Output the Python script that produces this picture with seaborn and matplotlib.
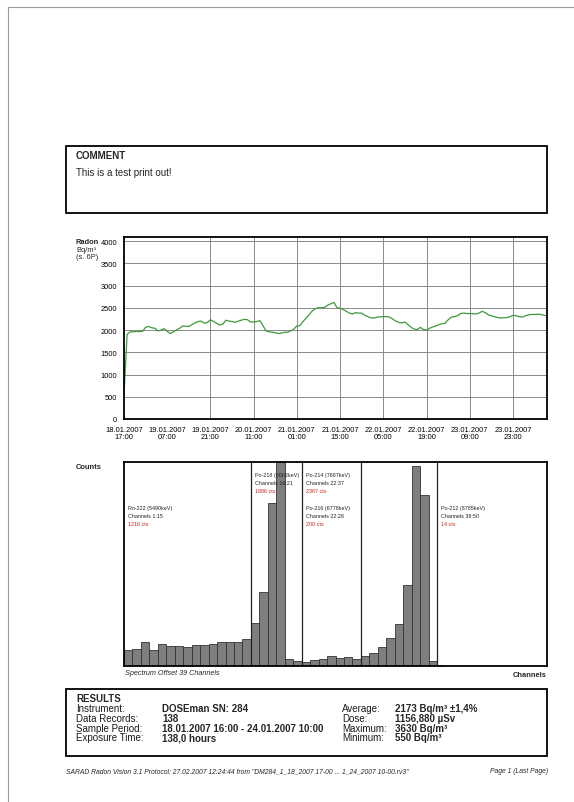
import matplotlib
matplotlib.use('Agg')
import matplotlib.pyplot as plt
import seaborn as sns
import pandas as pd
from matplotlib.patches import Rectangle

sns.set_theme(style='white')
plt.rcParams['font.family'] = ['Liberation Sans', 'DejaVu Sans']

# ---------------- data ----------------
radon_start = '2007-01-18 17:00'
radon = [550, 1900, 1960, 1960, 1970, 1965, 1970, 2060, 2080, 2050,
         2040, 1980, 2000, 2030, 1970, 1920, 1960, 2000, 2040, 2090,
         2085, 2080, 2120, 2160, 2190, 2200, 2150, 2170, 2230, 2190,
         2150, 2110, 2130, 2220, 2200, 2190, 2170, 2200, 2220, 2240,
         2230, 2180, 2180, 2190, 2210, 2100, 1980, 1960, 1950, 1940,
         1920, 1930, 1950, 1950, 1980, 2020, 2090, 2100, 2190, 2270,
         2350, 2430, 2480, 2500, 2500, 2510, 2560, 2590, 2620, 2500,
         2490, 2460, 2420, 2380, 2360, 2390, 2380, 2380, 2330, 2300,
         2270, 2270, 2290, 2295, 2300, 2300, 2290, 2250, 2200, 2170,
         2160, 2180, 2120, 2060, 2020, 2010, 2060, 2010, 2000, 2040,
         2070, 2090, 2120, 2140, 2150, 2230, 2290, 2300, 2320, 2370,
         2380, 2370, 2370, 2365, 2360, 2380, 2420, 2390, 2340, 2320,
         2300, 2280, 2270, 2275, 2280, 2300, 2330, 2320, 2300, 2290,
         2320, 2340, 2350, 2350, 2355, 2350, 2330, 2320]
radon_yticks = [0, 500, 1000, 1500, 2000, 2500, 3000, 3500, 4000]
radon_ymax = 4090
tick_times = ['2007-01-18 17:00', '2007-01-19 07:00', '2007-01-19 21:00',
              '2007-01-20 11:00', '2007-01-21 01:00', '2007-01-21 15:00',
              '2007-01-22 05:00', '2007-01-22 19:00', '2007-01-23 09:00',
              '2007-01-23 23:00']
tick_labels = ['18.01.2007\n17:00', '19.01.2007\n07:00', '19.01.2007\n21:00',
               '20.01.2007\n11:00', '21.01.2007\n01:00', '21.01.2007\n15:00',
               '22.01.2007\n05:00', '22.01.2007\n19:00', '23.01.2007\n09:00',
               '23.01.2007\n23:00']

channels = list(range(1, 51))
counts = [62, 65, 92, 62, 83, 77, 77, 72, 80, 81, 85, 93, 90, 93, 104,
          163, 283, 619, 777, 26, 18,
          15, 24, 28, 38, 32, 35, 28, 38, 49, 74, 108, 159, 310, 760, 650, 19,
          5, 1, 1, 0, 1, 1, 0, 1, 1, 0, 1, 1, 1]

regions = [
    ('Rn-222 (5490keV)', 'Channels 1:15', '1216 cts', 1, 15, 0),
    ('Po-218 (6002keV)', 'Channels 16:21', '1886 cts', 16, 21, 1),
    ('Po-214 (7687keV)', 'Channels 22:37', '2367 cts', 22, 37, 1),
    ('Po-216 (6778keV)', 'Channels 22:28', '200 cts', 22, 28, 0),
    ('Po-212 (8785keV)', 'Channels 38:50', '14 cts', 38, 50, 0),
]

res_labels_l = ['Instrument:', 'Data Records:', 'Sample Period:', 'Exposure Time:']
res_values_l = ['DOSEman SN: 284', '138', '18.01.2007 16:00 - 24.01.2007 10:00', '138,0 hours']
res_labels_r = ['Average:', 'Dose:', 'Maximum:', 'Minimum:']
res_values_r = ['2173 Bq/m³ ±1,4%', '1156,880 µSv', '3630 Bq/m³', '550 Bq/m³']

# ---------------- figure ----------------
W, H = 574, 803
fig = plt.figure(figsize=(W / 100, H / 100), dpi=100)
fig.patch.set_facecolor('white')


def fx(x):
    return x / W


def fy(y):
    return 1 - y / H


def box(x0, y0, x1, y1, lw=1.3, ec='black'):
    fig.add_artist(Rectangle((fx(x0), fy(y1)), fx(x1) - fx(x0), fy(y0) - fy(y1),
                             transform=fig.transFigure, fill=False, lw=lw, ec=ec))


# page outline
box(8, 8, 590, 820, lw=0.8, ec='#9a9a9a')

# COMMENT box
box(66, 147, 547, 214)
fig.text(fx(76), fy(156), 'COMMENT', fontsize=7, fontweight='bold', va='center', ha='left')
fig.text(fx(76), fy(173), 'This is a test print out!', fontsize=7, va='center', ha='left')

# ---------------- radon line chart ----------------
ax1 = fig.add_axes([fx(124), fy(420), fx(547) - fx(124), fy(238) - fy(420)])
times = pd.date_range(radon_start, periods=len(radon), freq='h')
df = pd.DataFrame({'time': times, 'radon': radon})
sns.lineplot(data=df, x='time', y='radon', ax=ax1, color='#3d9a3d', linewidth=0.9)
ax1.set_xlim(times[0], times[-1])
ax1.set_ylim(0, radon_ymax)
ax1.set_yticks(radon_yticks)
ax1.set_yticklabels([str(v) for v in radon_yticks])
tt = pd.to_datetime(tick_times)
ax1.set_xticks(tt)
ax1.set_xticklabels(tick_labels, linespacing=1.05)
ax1.set_xlabel('')
ax1.set_ylabel('')
ax1.grid(False)
for v in radon_yticks[1:]:
    ax1.axhline(v, color='#8a8a8a', lw=0.7, zorder=0)
for i, t in enumerate(tt):
    if i in (0, 1):
        continue
    ax1.axvline(t, color='#8a8a8a', lw=0.7, zorder=0)
ax1.tick_params(axis='both', length=0, labelsize=5.4, colors='black')
ax1.tick_params(axis='y', pad=5)
ax1.tick_params(axis='x', pad=5)
for s in ax1.spines.values():
    s.set_color('black')
    s.set_linewidth(1.3)

fig.text(fx(76), fy(242), 'Radon', fontsize=5.4, fontweight='bold', va='center')
fig.text(fx(76), fy(250), 'Bq/m³', fontsize=5.4, va='center')
fig.text(fx(76), fy(258), '(s. 6P)', fontsize=5.4, va='center')

# ---------------- spectrum ----------------
ax2 = fig.add_axes([fx(124), fy(667), fx(547) - fx(124), fy(463) - fy(667)])
sns.barplot(x=channels, y=counts, native_scale=True, width=1.0, color='#7e7e7e',
            saturation=1, edgecolor='#333333', linewidth=0.6, errorbar=None, ax=ax2)
ax2.set_xlim(0.5, 50.5)
ax2.set_ylim(0, max(counts))
ax2.set_xticks([])
ax2.set_yticks([])
ax2.set_xlabel('')
ax2.set_ylabel('')
for s in ax2.spines.values():
    s.set_color('black')
    s.set_linewidth(1.3)

for name, chan, cts, c0, c1, top in regions:
    if c1 < 50:
        ax2.axvline(c1 + 0.5, color='#222222', lw=0.9)
    ybase = 0.941 if top else 0.779
    for k, (txt, col) in enumerate([(name, '#222222'), (chan, '#222222'), (cts, '#cc2020')]):
        ax2.annotate(txt, xy=(c0 - 0.5, ybase - k * 0.041),
                     xycoords=('data', 'axes fraction'), xytext=(3, 0),
                     textcoords='offset points', fontsize=3.9, color=col,
                     va='center', ha='left', annotation_clip=False)

fig.text(fx(76), fy(468), 'Counts', fontsize=5.4, fontweight='bold', va='center')
fig.text(fx(125), fy(674), 'Spectrum Offset 39 Channels', fontsize=5.2, style='italic',
         va='center', ha='left')
fig.text(fx(547), fy(676), 'Channels', fontsize=5.4, fontweight='bold', va='center', ha='right')

# ---------------- RESULTS box ----------------
box(66, 690, 547, 757)
fig.text(fx(76), fy(699), 'RESULTS', fontsize=7, fontweight='bold', va='center')
row_y = [709.5, 719.3, 729, 738.5]
for y, a, b, c, d in zip(row_y, res_labels_l, res_values_l, res_labels_r, res_values_r):
    fig.text(fx(76), fy(y), a, fontsize=7, va='center', color='#1a1a1a')
    fig.text(fx(162), fy(y), b, fontsize=7, fontweight='bold', va='center')
    fig.text(fx(342), fy(y), c, fontsize=7, va='center', color='#1a1a1a')
    fig.text(fx(395), fy(y), d, fontsize=7, fontweight='bold', va='center')

# footer
fig.text(fx(66), fy(772),
         'SARAD Radon Vision 3.1 Protocol: 27.02.2007 12:24:44 from '
         '"DM284_1_18_2007 17-00 ... 1_24_2007 10-00.rv3"',
         fontsize=4.9, style='italic', va='center', ha='left')
fig.text(fx(548), fy(772), 'Page 1 (Last Page)', fontsize=4.9, style='italic',
         va='center', ha='right')

fig.savefig('out.png', dpi=100, facecolor='white')
